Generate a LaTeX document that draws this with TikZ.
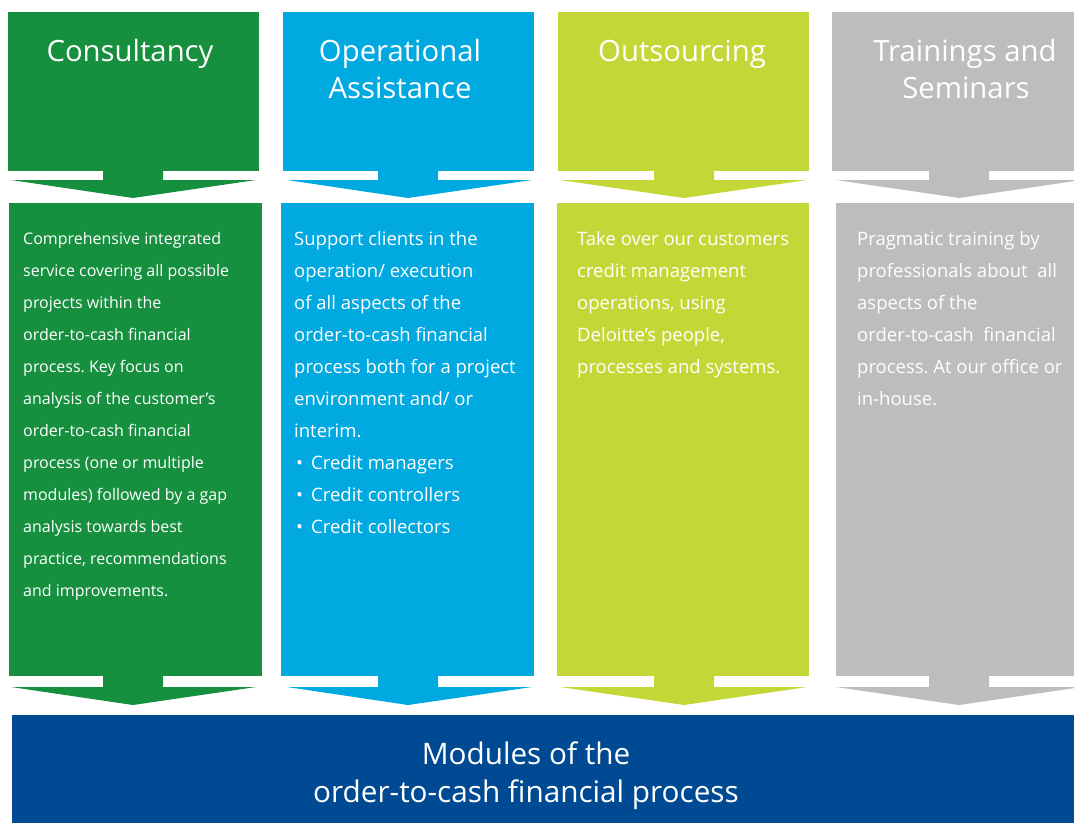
\documentclass[tikz,border=0pt]{standalone}
\usepackage{fontspec}
\setmainfont{Open Sans}
\frenchspacing
\definecolor{cgreen}{HTML}{168F3E}
\definecolor{cblue}{HTML}{00A9E0}
\definecolor{clime}{HTML}{C3D836}
\definecolor{cgrey}{HTML}{BCBDBF}
\definecolor{cnavy}{HTML}{004A93}
\newcommand\colshape[8]{%
  % #1 colour, #2 header left, #3 header right, #4 body left, #5 body right, #6 stem left, #7 head left, #8 head right
  \fill[#1] (#2,12) rectangle (#3,171);
  \fill[#1] (#6,170) -- (#6,180) -- (#7,180) -- ({#6+30},198) -- (#8,180) -- ({#6+60},180) -- ({#6+60},170) -- cycle;
  \fill[#1] (#4,203) rectangle (#5,676);
  \fill[#1] (#6,675) -- (#6,687) -- (#7,687) -- ({#6+30},705) -- (#8,687) -- ({#6+60},687) -- ({#6+60},675) -- cycle;
}
\begin{document}
\begin{tikzpicture}[x=1pt,y=-1pt,
  hdr/.style={anchor=base, inner sep=0pt, text=white, font=\fontsize{29.3}{37.5}\selectfont},
  bandtxt/.style={anchor=base, inner sep=0pt, text=white, font=\fontsize{29.7}{38}\selectfont},
  bodytxt/.style={anchor=base west, inner sep=0pt, text=white, font=\fontsize{16}{32}\selectfont},
  bodybig/.style={bodytxt, font=\fontsize{18.5}{32}\selectfont},
]
\useasboundingbox (0,0) rectangle (1074,823);
\colshape{cgreen}{8}{259}{9}{262}{103}{11}{256}
\colshape{cblue}{283}{534}{281}{534}{378}{287}{532}
\colshape{clime}{558}{809}{557}{809}{654}{560}{807}
\colshape{cgrey}{832}{1084}{836}{1084}{929}{836}{1082}
\fill[cnavy] (12,715) rectangle (1084,823);

% headers
\node[hdr] (h1) at (130,61) {Consultancy};
\node[hdr] (h2a) at (400,61) {Operational};
\node[hdr] (h2b) at (400,98) {Assistance};
\node[hdr] (h3) at (682,61) {Outsourcing};
\node[hdr] (h4a) at (965,61) {Trainings and};
\node[hdr] (h4b) at (966,98) {Seminars};

% body texts
\node[bodytxt] (b1) at (23,244) {\parbox[t]{236pt}{\raggedright
Comprehensive integrated\\
service covering all possible\\
projects within the\\
order-to-cash financial\\
process. Key focus on\\
analysis of the customer’s\\
order-to-cash financial\\
process (one or multiple\\
modules) followed by a gap\\
analysis towards best\\
practice, recommendations\\
and improvements.}};
\node[bodybig] (b2) at (294,245) {\parbox[t]{240pt}{\raggedright
Support clients in the\\
operation/ execution\\
of all aspects of the\\
order-to-cash financial\\
process both for a project\\
environment and/ or\\
interim.\\
\makebox[17pt][l]{\hspace{2pt}•}Credit managers\\
\makebox[17pt][l]{\hspace{2pt}•}Credit controllers\\
\makebox[17pt][l]{\hspace{2pt}•}Credit collectors}};
\node[bodybig] (b3) at (577,245) {\parbox[t]{240pt}{\raggedright
Take over our customers\\
credit management\\
operations, using\\
Deloitte’s people,\\
processes and systems.}};
\node[bodybig] (b4) at (857,245) {\parbox[t]{240pt}{\raggedright
Pragmatic training by\\
professionals about\ \ all\\
aspects of the\\
order-to-cash\ \ financial\\
process. At our office or\\
in-house.}};

% bottom band text
\node[bandtxt] (m1) at (526,764) {Modules of the};
\node[bandtxt] (m2) at (526,802) {order-to-cash financial process};
\end{tikzpicture}
\end{document}
